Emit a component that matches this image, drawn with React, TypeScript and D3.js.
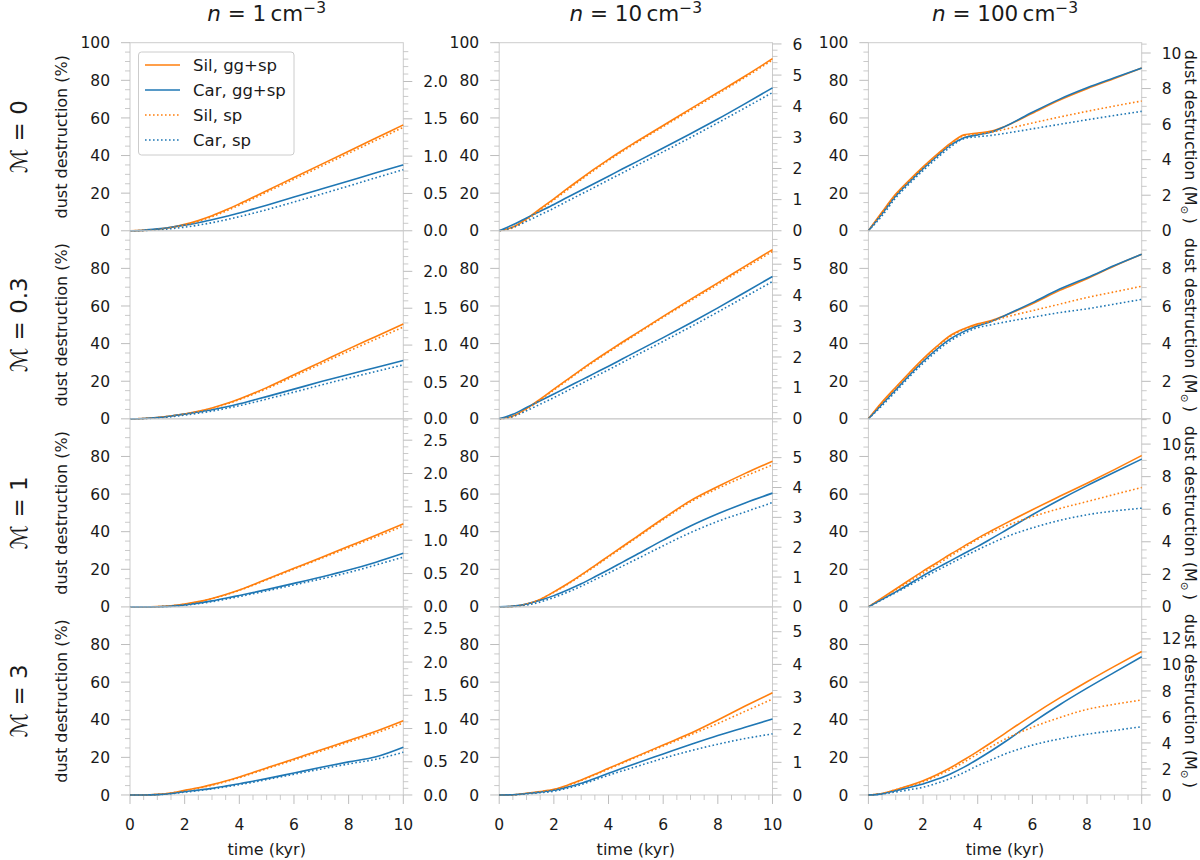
import React from 'react';
import * as d3 from 'd3';

// ---------------- DATA ----------------
const TIME = [0, 0.5, 1, 1.5, 2, 2.5, 3, 3.5, 4, 4.5, 5, 6, 7, 8, 9, 10];
const DENSITIES = ['1', '10', '100'];
const MACHS = ['0', '0.3', '1', '3'];
const X_TICKS = [0, 2, 4, 6, 8, 10];
const LEFT_TICKS = [0, 20, 40, 60, 80, 100];
const SERIES_NAMES = ['Sil, gg+sp', 'Car, gg+sp', 'Sil, sp', 'Car, sp'];

// n = 1, M = 0
const n1M0_silGG = [0, 0.2, 0.8, 1.8, 3.4, 5.5, 8.0, 11.0, 14.3, 17.8, 21.3, 28.3, 35.3, 42.3, 49.3, 56.3];
const n1M0_carGG = [0, 0.3, 1.0, 1.9, 3.0, 4.3, 5.9, 7.6, 9.4, 11.5, 13.6, 17.9, 22.2, 26.5, 30.8, 35.0];
const n1M0_silSP = [0, 0.2, 0.7, 1.6, 3.0, 5.0, 7.5, 10.4, 13.6, 17.0, 20.5, 27.4, 34.3, 41.2, 48.1, 55.0];
const n1M0_carSP = [0, 0.1, 0.5, 1.1, 1.9, 3.0, 4.3, 5.8, 7.5, 9.3, 11.2, 15.3, 19.5, 23.8, 28.2, 32.5];
// n = 10, M = 0
const n10M0_silGG = [0, 2.0, 6.4, 11.7, 17.0, 22.5, 27.8, 33.0, 38.0, 42.7, 47.2, 56.0, 64.8, 73.5, 82.3, 91.5];
const n10M0_carGG = [0, 3.2, 6.8, 10.4, 14.0, 17.8, 21.5, 25.3, 29.0, 32.8, 36.5, 44.0, 51.6, 59.4, 67.6, 76.0];
const n10M0_silSP = [0, 1.6, 5.8, 11.0, 16.4, 21.8, 27.2, 32.4, 37.4, 42.1, 46.6, 55.4, 64.1, 72.8, 81.6, 90.8];
const n10M0_carSP = [0, 1.8, 5.0, 8.5, 12.0, 15.8, 19.5, 23.2, 27.0, 30.7, 34.5, 42.0, 49.6, 57.4, 65.4, 73.5];
// n = 100, M = 0
const n100M0_silGG = [0, 10.0, 19.5, 27.0, 34.0, 40.5, 46.5, 51.0, 52.0, 53.0, 55.5, 62.5, 69.5, 75.5, 81.0, 86.5];
const n100M0_carGG = [0, 9.0, 18.5, 26.0, 33.0, 39.5, 45.5, 49.5, 51.0, 52.5, 55.5, 63.0, 70.0, 76.0, 81.3, 86.5];
const n100M0_silSP = [0, 9.5, 19.0, 26.5, 33.5, 40.0, 46.0, 50.5, 51.5, 52.5, 54.0, 57.3, 60.5, 63.5, 66.3, 69.0];
const n100M0_carSP = [0, 8.0, 17.5, 25.0, 32.0, 38.5, 44.5, 49.0, 50.0, 50.7, 51.8, 54.2, 56.6, 59.0, 61.3, 63.5];
// n = 1, M = 0.3
const n1M03_silGG = [0, 0.2, 0.7, 1.5, 2.6, 4.0, 5.8, 8.0, 10.6, 13.5, 16.6, 23.4, 30.3, 37.2, 43.8, 50.4];
const n1M03_carGG = [0, 0.2, 0.7, 1.5, 2.5, 3.6, 4.8, 6.3, 8.0, 9.9, 11.8, 15.8, 19.8, 23.6, 27.3, 31.0];
const n1M03_silSP = [0, 0.2, 0.7, 1.5, 2.5, 3.9, 5.6, 7.7, 10.2, 13.0, 16.0, 22.6, 29.3, 36.0, 42.4, 48.8];
const n1M03_carSP = [0, 0.1, 0.5, 1.1, 2.0, 3.0, 4.1, 5.5, 7.0, 8.7, 10.5, 14.2, 18.0, 21.7, 25.2, 28.7];
// n = 10, M = 0.3
const n10M03_silGG = [0, 1.5, 5.5, 10.5, 15.8, 21.0, 26.2, 31.2, 36.0, 40.7, 45.3, 54.5, 63.5, 72.3, 81.2, 90.0];
const n10M03_carGG = [0, 2.4, 6.0, 9.6, 13.2, 16.9, 20.6, 24.3, 28.0, 31.8, 35.6, 43.2, 51.0, 59.0, 67.3, 75.7];
const n10M03_silSP = [0, 1.2, 5.0, 10.0, 15.3, 20.5, 25.7, 30.7, 35.5, 40.2, 44.8, 54.0, 62.8, 71.5, 80.3, 89.0];
const n10M03_carSP = [0, 1.3, 4.3, 7.8, 11.3, 15.0, 18.7, 22.4, 26.1, 29.9, 33.7, 41.2, 48.9, 56.8, 64.9, 73.0];
// n = 100, M = 0.3
const n100M03_silGG = [0, 8.9, 16.8, 24.5, 31.9, 38.5, 44.3, 47.9, 50.5, 52.3, 55.0, 61.2, 68.3, 74.5, 81.3, 87.5];
const n100M03_carGG = [0, 7.8, 15.5, 23.2, 30.5, 37.0, 42.5, 46.5, 49.5, 51.8, 55.0, 61.8, 69.0, 75.0, 81.5, 87.5];
const n100M03_silSP = [0, 8.5, 16.3, 24.0, 31.4, 38.0, 43.8, 47.5, 50.0, 51.8, 54.0, 57.5, 61.0, 64.5, 67.5, 70.5];
const n100M03_carSP = [0, 7.0, 14.5, 22.3, 29.5, 36.0, 41.5, 45.5, 48.5, 50.0, 51.5, 54.0, 56.5, 58.5, 61.0, 63.5];
// n = 1, M = 1
const n1M1_silGG = [0, 0, 0.15, 0.6, 1.5, 2.8, 4.5, 6.6, 9.0, 11.8, 14.7, 20.5, 26.3, 32.2, 38.1, 44.2];
const n1M1_carGG = [0, 0, 0.1, 0.4, 1.1, 2.0, 3.2, 4.6, 6.1, 7.6, 9.2, 12.5, 15.9, 19.6, 23.8, 28.5];
const n1M1_silSP = [0, 0, 0.15, 0.6, 1.4, 2.7, 4.4, 6.4, 8.8, 11.5, 14.4, 20.1, 25.8, 31.5, 37.2, 43.0];
const n1M1_carSP = [0, 0, 0.1, 0.3, 0.9, 1.7, 2.8, 4.1, 5.5, 7.0, 8.5, 11.7, 14.9, 18.3, 22.3, 26.5];
// n = 10, M = 1
const n10M1_silGG = [0, 0.3, 1.5, 4.0, 8.0, 12.3, 17.0, 22.0, 27.0, 32.0, 37.0, 47.0, 56.5, 64.0, 71.0, 77.5];
const n10M1_carGG = [0, 0.4, 1.5, 3.5, 6.0, 9.0, 12.3, 16.0, 19.8, 23.7, 27.6, 35.5, 43.0, 49.5, 55.3, 60.5];
const n10M1_silSP = [0, 0.3, 1.5, 4.0, 7.8, 12.0, 16.6, 21.5, 26.5, 31.5, 36.5, 46.4, 55.8, 63.0, 69.5, 75.5];
const n10M1_carSP = [0, 0.2, 1.0, 2.6, 5.0, 7.8, 11.0, 14.5, 18.0, 21.6, 25.2, 32.5, 39.5, 45.5, 50.5, 55.5];
// n = 100, M = 1
const n100M1_silGG = [0, 4.8, 9.5, 14.3, 19.0, 23.5, 28.0, 32.3, 36.6, 40.5, 44.3, 51.7, 58.8, 65.8, 73.0, 80.5];
const n100M1_carGG = [0, 4.0, 8.0, 12.2, 16.6, 20.6, 24.5, 28.4, 32.2, 36.3, 40.5, 49.0, 57.0, 64.5, 71.6, 78.6];
const n100M1_silSP = [0, 4.5, 9.0, 13.5, 18.0, 22.5, 27.0, 31.5, 36.0, 39.5, 42.8, 48.0, 52.3, 56.0, 59.8, 63.5];
const n100M1_carSP = [0, 3.8, 7.6, 11.5, 15.4, 19.3, 23.0, 26.8, 30.4, 33.8, 37.0, 42.0, 46.0, 49.0, 51.0, 52.5];
// n = 1, M = 3
const n1M3_silGG = [0, 0, 0.3, 1.0, 2.5, 3.8, 5.5, 7.4, 9.6, 12.0, 14.4, 19.1, 24.1, 28.9, 33.9, 39.5];
const n1M3_carGG = [0, 0, 0.2, 0.8, 1.8, 2.6, 3.5, 4.7, 6.0, 7.3, 8.7, 11.7, 14.7, 17.6, 20.3, 25.4];
const n1M3_silSP = [0, 0, 0.3, 1.0, 2.3, 3.6, 5.2, 7.1, 9.2, 11.5, 13.9, 18.6, 23.4, 28.1, 32.9, 38.3];
const n1M3_carSP = [0, 0, 0.2, 0.7, 1.5, 2.3, 3.2, 4.3, 5.5, 6.8, 8.2, 11.0, 13.8, 16.5, 19.0, 22.7];
// n = 10, M = 3
const n10M3_silGG = [0, 0.1, 0.9, 1.8, 3.0, 5.2, 8.0, 11.0, 14.2, 17.3, 20.4, 26.6, 32.8, 39.9, 47.3, 54.4];
const n10M3_carGG = [0, 0.1, 0.8, 1.5, 2.5, 4.2, 6.2, 8.8, 11.5, 14.2, 16.8, 21.8, 26.8, 31.6, 36.0, 40.4];
const n10M3_silSP = [0, 0.1, 0.8, 1.7, 2.9, 5.0, 7.7, 10.7, 13.8, 16.9, 20.0, 26.0, 32.0, 38.0, 44.5, 51.0];
const n10M3_carSP = [0, 0.1, 0.6, 1.2, 2.0, 3.6, 5.5, 8.0, 10.5, 12.8, 15.0, 19.5, 23.5, 27.0, 30.0, 32.5];
// n = 100, M = 3
const n100M3_silGG = [0, 0.8, 2.8, 5.0, 7.6, 10.8, 14.5, 18.7, 23.2, 27.9, 32.8, 42.5, 51.6, 60.2, 68.4, 76.3];
const n100M3_carGG = [0, 0.6, 2.3, 4.0, 5.8, 8.3, 11.2, 14.8, 19.0, 23.5, 28.3, 38.5, 48.0, 56.8, 65.2, 73.5];
const n100M3_silSP = [0, 0.8, 2.8, 4.8, 7.0, 10.1, 13.5, 17.5, 21.8, 25.8, 29.7, 36.0, 41.2, 45.5, 48.2, 50.5];
const n100M3_carSP = [0, 0.5, 1.6, 2.8, 4.1, 6.2, 8.8, 12.0, 15.6, 18.7, 21.8, 26.5, 29.8, 32.3, 34.3, 36.3];

// secondary (mass) axis: value at 100 % and visible tick labels, per row / column
const RIGHT_MAX = [
  [2.52, 6.04, 10.58],
  [2.55, 6.08, 10.03],
  [2.82, 6.3, 11.55],
  [2.83, 5.76, 14.46],
];
const RIGHT_TICKS = [
  [[0, 0.5, 1, 1.5, 2], [0, 1, 2, 3, 4, 5, 6], [0, 2, 4, 6, 8, 10]],
  [[0, 0.5, 1, 1.5, 2], [0, 1, 2, 3, 4, 5], [0, 2, 4, 6, 8]],
  [[0, 0.5, 1, 1.5, 2, 2.5], [0, 1, 2, 3, 4, 5], [0, 2, 4, 6, 8, 10]],
  [[0, 0.5, 1, 1.5, 2, 2.5], [0, 1, 2, 3, 4, 5], [0, 2, 4, 6, 8, 10, 12]],
];
const RIGHT_STEP = [0.5, 1, 2];
const RIGHT_MINOR_DIV = [5, 5, 4];

const PANEL_DATA = [
  [
    [n1M0_silGG, n1M0_carGG, n1M0_silSP, n1M0_carSP],
    [n10M0_silGG, n10M0_carGG, n10M0_silSP, n10M0_carSP],
    [n100M0_silGG, n100M0_carGG, n100M0_silSP, n100M0_carSP],
  ],
  [
    [n1M03_silGG, n1M03_carGG, n1M03_silSP, n1M03_carSP],
    [n10M03_silGG, n10M03_carGG, n10M03_silSP, n10M03_carSP],
    [n100M03_silGG, n100M03_carGG, n100M03_silSP, n100M03_carSP],
  ],
  [
    [n1M1_silGG, n1M1_carGG, n1M1_silSP, n1M1_carSP],
    [n10M1_silGG, n10M1_carGG, n10M1_silSP, n10M1_carSP],
    [n100M1_silGG, n100M1_carGG, n100M1_silSP, n100M1_carSP],
  ],
  [
    [n1M3_silGG, n1M3_carGG, n1M3_silSP, n1M3_carSP],
    [n10M3_silGG, n10M3_carGG, n10M3_silSP, n10M3_carSP],
    [n100M3_silGG, n100M3_carGG, n100M3_silSP, n100M3_carSP],
  ],
];

// ---------------- STYLE / LAYOUT ----------------
const ORANGE = '#ff7f0e';
const BLUE = '#1f77b4';
const SERIES_COLOR = [ORANGE, BLUE, ORANGE, BLUE];
const SERIES_DOTTED = [false, false, true, true];
const COL_X = [130, 499.2, 868.4];
const PW = 273.3;
const TOP = 42.7;
const PH = 188.07;
const SPINE = '#cccccc';
const TICK = '#bdbdbd';
const TXT = '#1a1a1a';
const FONT = 'DejaVu Sans, Verdana, sans-serif';
const FS = 15.5;
const FS_LABEL = 16;
const FS_LEGEND = 16.5;
const MAJ = 9;
const MIN = 5;
const GAP = 20;

function range(start: number, stop: number, step: number) {
  const out: number[] = [];
  const n = Math.floor((stop - start) / step + 1e-6);
  for (let i = 0; i <= n; i++) out.push(+(start + i * step).toFixed(6));
  return out;
}

function Panel({ r, c }: { r: number; c: number }) {
  const x0 = COL_X[c];
  const y0 = TOP + r * PH;
  const x = d3.scaleLinear().domain([0, 10]).range([x0, x0 + PW]);
  const y = d3.scaleLinear().domain([0, 100]).range([y0 + PH, y0]);
  const rmax = RIGHT_MAX[r][c];
  const yr = d3.scaleLinear().domain([0, rmax]).range([y0 + PH, y0]);
  const line = d3
    .line<number>()
    .x((_, i) => x(TIME[i]))
    .y((d) => y(d))
    .curve(d3.curveMonotoneX);

  const leftMajor = r === 0 ? LEFT_TICKS : LEFT_TICKS.filter((v) => v < 100);
  const leftMinor = range(0, 100, 5).filter((v) => v % 20 !== 0);
  const rStep = RIGHT_STEP[c];
  const rMinorStep = rStep / RIGHT_MINOR_DIV[c];
  const rMajor = RIGHT_TICKS[r][c];
  const rMinor = range(0, rmax, rMinorStep).filter(
    (v) => Math.abs(v / rStep - Math.round(v / rStep)) > 1e-6
  );
  const fmtR = c === 0 ? d3.format('.1f') : d3.format('d');
  const xr = x0 + PW;
  const yb = y0 + PH;

  return (
    <g>
      <rect x={x0} y={y0} width={PW} height={PH} fill="none" stroke={SPINE} strokeWidth={1} />
      {leftMinor.map((v) => (
        <line key={'lm' + v} x1={x0 - MIN} x2={x0} y1={y(v)} y2={y(v)} stroke={TICK} strokeWidth={0.8} />
      ))}
      {leftMajor.map((v) => (
        <g key={'lM' + v}>
          <line x1={x0 - MAJ} x2={x0} y1={y(v)} y2={y(v)} stroke={TICK} strokeWidth={1} />
          <text x={x0 - GAP} y={y(v)} dy="0.36em" textAnchor="end" fontSize={FS} fill={TXT}>
            {v}
          </text>
        </g>
      ))}
      {rMinor.map((v) => (
        <line key={'rm' + v} x1={xr} x2={xr + MIN} y1={yr(v)} y2={yr(v)} stroke={TICK} strokeWidth={0.8} />
      ))}
      {rMajor.map((v) => (
        <g key={'rM' + v}>
          <line x1={xr} x2={xr + MAJ} y1={yr(v)} y2={yr(v)} stroke={TICK} strokeWidth={1} />
          <text x={xr + GAP} y={yr(v)} dy="0.36em" textAnchor="start" fontSize={FS} fill={TXT}>
            {fmtR(v)}
          </text>
        </g>
      ))}
      {r === 3 && (
        <g>
          {range(0, 10, 0.5)
            .filter((v) => v % 2 !== 0)
            .map((v) => (
              <line key={'xm' + v} x1={x(v)} x2={x(v)} y1={yb} y2={yb + MIN} stroke={TICK} strokeWidth={0.8} />
            ))}
          {X_TICKS.map((v) => (
            <g key={'xM' + v}>
              <line x1={x(v)} x2={x(v)} y1={yb} y2={yb + MAJ} stroke={TICK} strokeWidth={1} />
              <text x={x(v)} y={yb + 35} textAnchor="middle" fontSize={FS} fill={TXT}>
                {v}
              </text>
            </g>
          ))}
          <text x={x0 + PW / 2} y={yb + 60} textAnchor="middle" fontSize={FS_LABEL} fill={TXT}>
            time (kyr)
          </text>
        </g>
      )}
      {PANEL_DATA[r][c].map((vals, i) => (
        <path
          key={'s' + i}
          d={line(vals) || ''}
          fill="none"
          stroke={SERIES_COLOR[i]}
          strokeWidth={1.6}
          strokeDasharray={SERIES_DOTTED[i] ? '1.6 2.4' : undefined}
        />
      ))}
    </g>
  );
}

export default function App() {
  const rows = [0, 1, 2, 3];
  const cols = [0, 1, 2];
  return (
    <svg
      width={1200}
      height={860}
      viewBox="0 0 1200 860"
      style={{ position: 'absolute', left: 0, top: 0, display: 'block', background: '#fff' }}
      fontFamily={FONT}
    >
      <rect x={0} y={0} width={1200} height={860} fill="#fff" />
      {rows.map((r) => cols.map((c) => <Panel key={r + '-' + c} r={r} c={c} />))}

      {DENSITIES.map((d, c) => (
        <text key={'t' + c} x={COL_X[c] + PW / 2} y={21} textAnchor="middle" fontSize={21.5} fill={TXT}>
          <tspan fontStyle="italic">n</tspan>
          <tspan>{' = ' + d + '\u2009cm'}</tspan>
          <tspan dy={-8} fontSize={15.5}>
            {'\u22123'}
          </tspan>
        </text>
      ))}

      {MACHS.map((m, r) => {
        const cy = TOP + r * PH + PH / 2;
        return (
          <g key={'m' + r}>
            <text transform={`translate(27,${cy}) rotate(-90)`} textAnchor="middle" fontSize={23} fill={TXT}>
              {'\u2133 = ' + m}
            </text>
            <text transform={`translate(67,${cy}) rotate(-90)`} textAnchor="middle" fontSize={FS_LABEL} fill={TXT}>
              dust destruction (%)
            </text>
            <text transform={`translate(1185,${cy}) rotate(90)`} textAnchor="middle" fontSize={FS_LABEL} fill={TXT}>
              {'dust destruction (M'}
              <tspan fontSize={10.5} dy={4}>
                {'\u2299'}
              </tspan>
              <tspan dy={-4}>{'\u2009)'}</tspan>
            </text>
          </g>
        );
      })}

      <g>
        <rect x={138.5} y={52} width={155.5} height={103} rx={3} fill="#fff" fillOpacity={0.85} stroke={SPINE} strokeWidth={1} />
        {SERIES_NAMES.map((name, i) => {
          const ly = 65 + i * 25;
          return (
            <g key={'lg' + i}>
              <line
                x1={145}
                x2={180}
                y1={ly}
                y2={ly}
                stroke={SERIES_COLOR[i]}
                strokeWidth={1.6}
                strokeDasharray={SERIES_DOTTED[i] ? '1.6 2.4' : undefined}
              />
              <text x={193} y={ly} dy="0.36em" fontSize={FS_LEGEND} fill={TXT}>
                {name}
              </text>
            </g>
          );
        })}
      </g>
    </svg>
  );
}
